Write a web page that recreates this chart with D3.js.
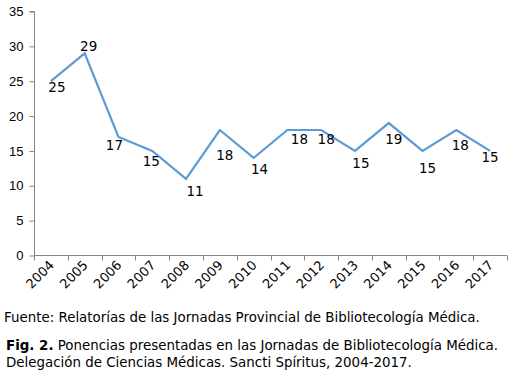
<!DOCTYPE html>
<html>
<head>
<meta charset="utf-8">
<script src="https://cdn.jsdelivr.net/npm/d3@7"></script>
<style>
  body { margin: 0; background: #fff; }
  svg { font-family: "DejaVu Sans", Verdana, sans-serif; }
</style>
</head>
<body>
<svg width="519" height="385"></svg>
<script>
const years = ['2004', '2005', '2006', '2007', '2008', '2009', '2010',
    '2011', '2012', '2013', '2014', '2015', '2016', '2017'];
const ponencias = [25, 29, 17, 15, 11, 18, 14, 18, 18, 15, 19, 15, 18, 15];
const yTicks = [0, 5, 10, 15, 20, 25, 30, 35];
const fuente = 'Fuente: Relatorías de las Jornadas Provincial de Bibliotecología Médica.';
const figNum = 'Fig. 2.';
const figTitle = [' Ponencias presentadas en las Jornadas de Bibliotecología Médica.',
    'Delegación de Ciencias Médicas. Sancti Spíritus, 2004-2017.'];

// where each value label sits relative to its point (dx, dy of the text centre)
const labelOffsets = [[6, 6], [4, -7], [-4, 8], [-1, 10], [9, 12], [5, 25], [6, 11],
    [12, 9], [5, 9], [6, 12], [5, 16], [5, 17], [4, 15], [0, 6]];

const svg = d3.select('svg');
const x = d3.scaleBand().domain(years).range([34, 507]);
const y = d3.scaleLinear().domain([0, 35]).range([255.5, 11.5]);

const axisColor = '#868686';

const gy = svg.append('g')
    .attr('transform', 'translate(34.5, 0)')
    .call(d3.axisLeft(y).tickValues(yTicks).tickSize(5).tickPadding(6));
const gx = svg.append('g')
    .attr('transform', 'translate(0, 255.5)')
    .call(d3.axisBottom(x).tickSize(0).tickFormat(''));

svg.selectAll('.domain').attr('stroke', axisColor);
gy.selectAll('line').attr('stroke', axisColor);
gy.select('.domain').attr('d', 'M-5,11.5H0V255.5');
gy.selectAll('text').style('font-size', '13px').attr('fill', '#000');
gx.select('.domain').attr('d', 'M34,0H507');

// ticks between the years
gx.selectAll('line.sep')
    .data(years.concat(['end']))
    .join('line')
    .attr('class', 'sep')
    .attr('x1', (d, i) => Math.round(34 + x.step() * i) + 0.5)
    .attr('x2', (d, i) => Math.round(34 + x.step() * i) + 0.5)
    .attr('y1', 0)
    .attr('y2', 5)
    .attr('stroke', axisColor);

svg.append('g').selectAll('text')
    .data(years)
    .join('text')
    .text(d => d)
    .attr('text-anchor', 'end')
    .attr('transform', d => `translate(${x(d) + x.bandwidth() / 2 + 4}, ${266}) rotate(-45)`)
    .style('font-size', '13px');

const line = d3.line()
    .x((d, i) => x(years[i]) + x.bandwidth() / 2)
    .y(d => y(d));

svg.append('path')
    .datum(ponencias)
    .attr('d', line)
    .attr('fill', 'none')
    .attr('stroke', '#5b9bd5')
    .attr('stroke-width', 2.2);

svg.append('g').selectAll('text')
    .data(ponencias)
    .join('text')
    .text(d => d)
    .attr('text-anchor', 'middle')
    .attr('dominant-baseline', 'central')
    .attr('x', (d, i) => x(years[i]) + x.bandwidth() / 2 + labelOffsets[i][0])
    .attr('y', (d, i) => y(d) + labelOffsets[i][1])
    .style('font-size', '13.5px');

svg.append('text')
    .attr('x', 4)
    .attr('y', 322)
    .style('font-size', '13.4px')
    .text(fuente);

const fig = svg.append('text')
    .attr('x', 6)
    .attr('y', 350)
    .style('font-size', '13.4px');
fig.append('tspan').style('font-weight', 'bold').text(figNum);
fig.append('tspan').text(figTitle[0]);
svg.append('text')
    .attr('x', 6)
    .attr('y', 367)
    .style('font-size', '13.4px')
    .text(figTitle[1]);
</script>
</body>
</html>
